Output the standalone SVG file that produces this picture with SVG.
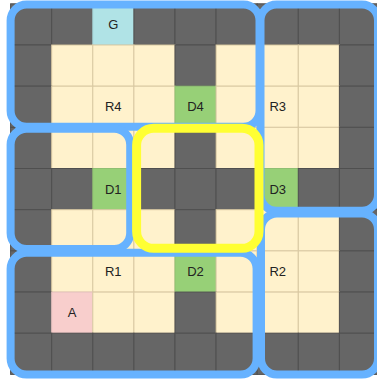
<svg xmlns="http://www.w3.org/2000/svg" width="377" height="381" viewBox="0 0 377 381">
<style>
.dk{fill:#666666;stroke:#4f4f4f;stroke-width:1}
.cr{fill:#fff2cc;stroke:#d9c9a2;stroke-width:1}
.gr{fill:#97d077;stroke:#8fbf72;stroke-width:1}
.cy{fill:#b0e3e6;stroke:#a5d3d6;stroke-width:1}
.pk{fill:#f8cecc;stroke:#e6c2bf;stroke-width:1}
.room{fill:none;stroke:#66b2ff;stroke-width:8}
.hl{fill:none;stroke:#ffff33;stroke-width:9}
text{font-family:"Liberation Sans",Arial,sans-serif;font-size:13px;fill:#222222;text-anchor:middle}
</style>
<rect x="0" y="0" width="377" height="381" fill="#ffffff"/>
<g id="grid">
<!-- row 0 -->
<rect class="dk" x="10.6" y="3.8" width="41.1" height="41.2"/>
<rect class="dk" x="51.7" y="3.8" width="41.1" height="41.2"/>
<rect class="cy" x="92.8" y="3.8" width="41.1" height="41.2"/>
<rect class="dk" x="133.9" y="3.8" width="41.1" height="41.2"/>
<rect class="dk" x="175" y="3.8" width="41.1" height="41.2"/>
<rect class="dk" x="216.1" y="3.8" width="41.1" height="41.2"/>
<rect class="dk" x="257.2" y="3.8" width="41.1" height="41.2"/>
<rect class="dk" x="298.3" y="3.8" width="41.1" height="41.2"/>
<rect class="dk" x="339.4" y="3.8" width="41.1" height="41.2"/>
<!-- row 1 -->
<rect class="dk" x="10.6" y="45" width="41.1" height="41.2"/>
<rect class="cr" x="51.7" y="45" width="41.1" height="41.2"/>
<rect class="cr" x="92.8" y="45" width="41.1" height="41.2"/>
<rect class="cr" x="133.9" y="45" width="41.1" height="41.2"/>
<rect class="dk" x="175" y="45" width="41.1" height="41.2"/>
<rect class="cr" x="216.1" y="45" width="41.1" height="41.2"/>
<rect class="cr" x="257.2" y="45" width="41.1" height="41.2"/>
<rect class="cr" x="298.3" y="45" width="41.1" height="41.2"/>
<rect class="dk" x="339.4" y="45" width="41.1" height="41.2"/>
<!-- row 2 -->
<rect class="dk" x="10.6" y="86.2" width="41.1" height="41.2"/>
<rect class="cr" x="51.7" y="86.2" width="41.1" height="41.2"/>
<rect class="cr" x="92.8" y="86.2" width="41.1" height="41.2"/>
<rect class="cr" x="133.9" y="86.2" width="41.1" height="41.2"/>
<rect class="gr" x="175" y="86.2" width="41.1" height="41.2"/>
<rect class="cr" x="216.1" y="86.2" width="41.1" height="41.2"/>
<rect class="cr" x="257.2" y="86.2" width="41.1" height="41.2"/>
<rect class="cr" x="298.3" y="86.2" width="41.1" height="41.2"/>
<rect class="dk" x="339.4" y="86.2" width="41.1" height="41.2"/>
<!-- row 3 -->
<rect class="dk" x="10.6" y="127.3" width="41.1" height="41.2"/>
<rect class="cr" x="51.7" y="127.3" width="41.1" height="41.2"/>
<rect class="cr" x="92.8" y="127.3" width="41.1" height="41.2"/>
<rect class="cr" x="133.9" y="127.3" width="41.1" height="41.2"/>
<rect class="dk" x="175" y="127.3" width="41.1" height="41.2"/>
<rect class="cr" x="216.1" y="127.3" width="41.1" height="41.2"/>
<rect class="cr" x="257.2" y="127.3" width="41.1" height="41.2"/>
<rect class="cr" x="298.3" y="127.3" width="41.1" height="41.2"/>
<rect class="dk" x="339.4" y="127.3" width="41.1" height="41.2"/>
<!-- row 4 -->
<rect class="dk" x="10.6" y="168.5" width="41.1" height="41.2"/>
<rect class="dk" x="51.7" y="168.5" width="41.1" height="41.2"/>
<rect class="gr" x="92.8" y="168.5" width="41.1" height="41.2"/>
<rect class="dk" x="133.9" y="168.5" width="41.1" height="41.2"/>
<rect class="dk" x="175" y="168.5" width="41.1" height="41.2"/>
<rect class="dk" x="216.1" y="168.5" width="41.1" height="41.2"/>
<rect class="gr" x="257.2" y="168.5" width="41.1" height="41.2"/>
<rect class="dk" x="298.3" y="168.5" width="41.1" height="41.2"/>
<rect class="dk" x="339.4" y="168.5" width="41.1" height="41.2"/>
<!-- row 5 -->
<rect class="dk" x="10.6" y="209.7" width="41.1" height="41.2"/>
<rect class="cr" x="51.7" y="209.7" width="41.1" height="41.2"/>
<rect class="cr" x="92.8" y="209.7" width="41.1" height="41.2"/>
<rect class="cr" x="133.9" y="209.7" width="41.1" height="41.2"/>
<rect class="dk" x="175" y="209.7" width="41.1" height="41.2"/>
<rect class="cr" x="216.1" y="209.7" width="41.1" height="41.2"/>
<rect class="cr" x="257.2" y="209.7" width="41.1" height="41.2"/>
<rect class="cr" x="298.3" y="209.7" width="41.1" height="41.2"/>
<rect class="dk" x="339.4" y="209.7" width="41.1" height="41.2"/>
<!-- row 6 -->
<rect class="dk" x="10.6" y="250.9" width="41.1" height="41.2"/>
<rect class="cr" x="51.7" y="250.9" width="41.1" height="41.2"/>
<rect class="cr" x="92.8" y="250.9" width="41.1" height="41.2"/>
<rect class="cr" x="133.9" y="250.9" width="41.1" height="41.2"/>
<rect class="gr" x="175" y="250.9" width="41.1" height="41.2"/>
<rect class="cr" x="216.1" y="250.9" width="41.1" height="41.2"/>
<rect class="cr" x="257.2" y="250.9" width="41.1" height="41.2"/>
<rect class="cr" x="298.3" y="250.9" width="41.1" height="41.2"/>
<rect class="dk" x="339.4" y="250.9" width="41.1" height="41.2"/>
<!-- row 7 -->
<rect class="dk" x="10.6" y="292.1" width="41.1" height="41.2"/>
<rect class="pk" x="51.7" y="292.1" width="41.1" height="41.2"/>
<rect class="cr" x="92.8" y="292.1" width="41.1" height="41.2"/>
<rect class="cr" x="133.9" y="292.1" width="41.1" height="41.2"/>
<rect class="dk" x="175" y="292.1" width="41.1" height="41.2"/>
<rect class="cr" x="216.1" y="292.1" width="41.1" height="41.2"/>
<rect class="cr" x="257.2" y="292.1" width="41.1" height="41.2"/>
<rect class="cr" x="298.3" y="292.1" width="41.1" height="41.2"/>
<rect class="dk" x="339.4" y="292.1" width="41.1" height="41.2"/>
<!-- row 8 -->
<rect class="dk" x="10.6" y="333.2" width="41.1" height="41.2"/>
<rect class="dk" x="51.7" y="333.2" width="41.1" height="41.2"/>
<rect class="dk" x="92.8" y="333.2" width="41.1" height="41.2"/>
<rect class="dk" x="133.9" y="333.2" width="41.1" height="41.2"/>
<rect class="dk" x="175" y="333.2" width="41.1" height="41.2"/>
<rect class="dk" x="216.1" y="333.2" width="41.1" height="41.2"/>
<rect class="dk" x="257.2" y="333.2" width="41.1" height="41.2"/>
<rect class="dk" x="298.3" y="333.2" width="41.1" height="41.2"/>
<rect class="dk" x="339.4" y="333.2" width="41.1" height="41.2"/>
</g>
<g id="labels">
<text x="113.3" y="29">G</text>
<text x="113.3" y="111.4">R4</text>
<text x="195.5" y="111.4">D4</text>
<text x="277.7" y="111.4">R3</text>
<text x="113.3" y="193.7">D1</text>
<text x="277.7" y="193.7">D3</text>
<text x="113.3" y="276.1">R1</text>
<text x="195.5" y="276.1">D2</text>
<text x="277.7" y="276.1">R2</text>
<text x="72.2" y="317.3">A</text>
</g>
<g id="room-R4"><rect class="room" x="10.6" y="4.6" width="248.9" height="122.2" rx="16"/></g>
<g id="room-R3"><rect class="room" x="260.5" y="4.6" width="117.5" height="206.2" rx="16"/></g>
<g id="room-D1"><rect class="room" x="10.6" y="128.7" width="119.6" height="120.3" rx="16"/></g>
<g id="room-R1"><rect class="room" x="10.6" y="252.8" width="246" height="121.8" rx="16"/></g>
<g id="room-R2"><rect class="room" x="261" y="213.5" width="117" height="161.1" rx="16"/></g>
<g id="highlight"><rect class="hl" x="136.6" y="128.3" width="122.4" height="120" rx="17"/></g>
</svg>
